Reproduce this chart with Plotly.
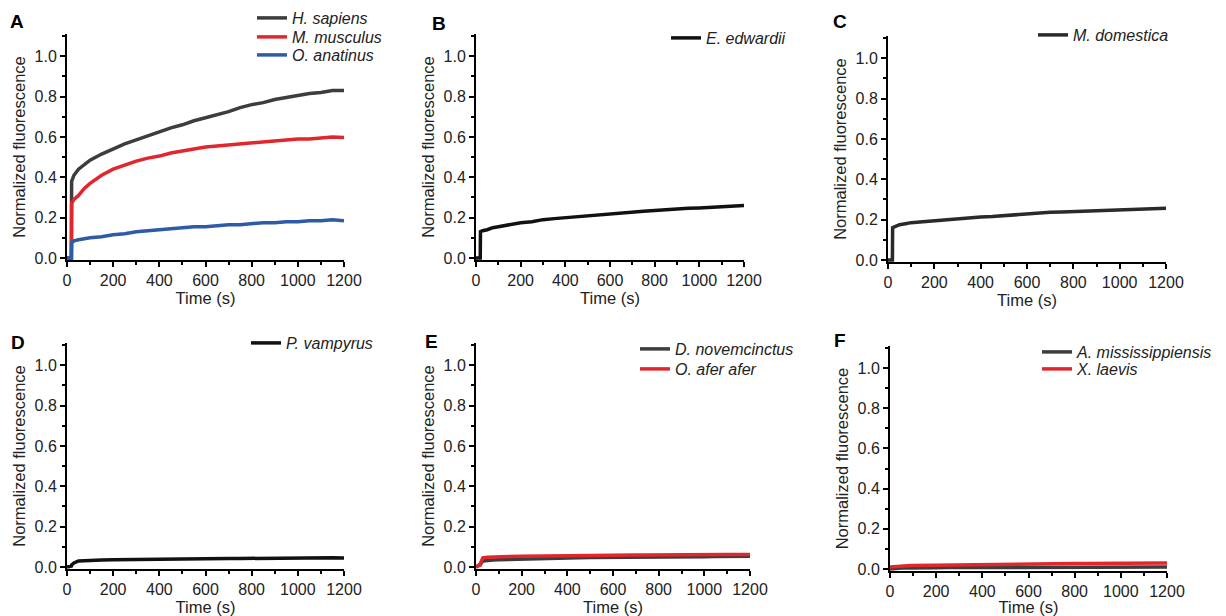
import plotly.graph_objects as go

# ---------------- data ----------------
time_s = [0, 19, 20, 30, 50, 75, 100, 150, 200, 250, 300, 350, 400, 450, 500,
          550, 600, 650, 700, 750, 800, 850, 900, 950, 1000, 1050, 1100, 1150, 1200]

h_sapiens = [0, 0, 0.38, 0.41, 0.44, 0.465, 0.485, 0.515, 0.54, 0.565, 0.585, 0.605, 0.625, 0.645, 0.66,
             0.68, 0.695, 0.71, 0.725, 0.745, 0.76, 0.77, 0.785, 0.795, 0.805, 0.815, 0.82, 0.83, 0.83]
m_musculus = [0, 0, 0.27, 0.29, 0.31, 0.345, 0.37, 0.41, 0.44, 0.46, 0.48, 0.495, 0.505, 0.52, 0.53,
              0.54, 0.55, 0.555, 0.56, 0.565, 0.57, 0.575, 0.58, 0.585, 0.59, 0.59, 0.595, 0.6, 0.597]
o_anatinus = [0, 0, 0.075, 0.085, 0.09, 0.095, 0.1, 0.105, 0.115, 0.12, 0.13, 0.135, 0.14, 0.145, 0.15,
              0.155, 0.155, 0.16, 0.165, 0.165, 0.17, 0.175, 0.175, 0.18, 0.18, 0.185, 0.185, 0.19, 0.185]
e_edwardii = [0, 0, 0.13, 0.135, 0.14, 0.15, 0.155, 0.165, 0.175, 0.18, 0.19, 0.195, 0.2, 0.205, 0.21,
              0.215, 0.22, 0.222, 0.228, 0.232, 0.235, 0.24, 0.243, 0.246, 0.248, 0.25, 0.252, 0.256, 0.26]
m_domestica = [0, 0, 0.16, 0.165, 0.175, 0.18, 0.185, 0.19, 0.195, 0.2, 0.205, 0.21, 0.213, 0.215, 0.22,
               0.225, 0.23, 0.235, 0.237, 0.238, 0.24, 0.243, 0.245, 0.246, 0.248, 0.25, 0.253, 0.256, 0.256]
p_vampyrus = [0, 0.005, 0.01, 0.02, 0.03, 0.032, 0.035, 0.035, 0.036, 0.037, 0.038, 0.038, 0.04, 0.039, 0.04,
              0.04, 0.04, 0.041, 0.042, 0.042, 0.043, 0.043, 0.044, 0.044, 0.044, 0.045, 0.045, 0.046, 0.045]
d_novemcinctus = [0, 0.01, 0.015, 0.03, 0.033, 0.035, 0.036, 0.038, 0.04, 0.042, 0.043, 0.044, 0.045, 0.046, 0.047,
                  0.047, 0.048, 0.048, 0.049, 0.049, 0.05, 0.05, 0.05, 0.051, 0.051, 0.052, 0.052, 0.053, 0.053]
o_afer_afer = [0, 0.01, 0.02, 0.045, 0.048, 0.05, 0.05, 0.052, 0.053, 0.054, 0.055, 0.056, 0.056, 0.057, 0.057,
               0.058, 0.058, 0.058, 0.059, 0.059, 0.06, 0.06, 0.06, 0.061, 0.061, 0.061, 0.062, 0.062, 0.062]
a_mississippiensis = [0, 0.003, 0.004, 0.005, 0.005, 0.005, 0.006, 0.006, 0.006, 0.007, 0.007, 0.007, 0.007, 0.008, 0.008,
                      0.008, 0.008, 0.008, 0.009, 0.009, 0.009, 0.009, 0.009, 0.01, 0.01, 0.01, 0.01, 0.01, 0.01]
x_laevis = [0.01, 0.012, 0.013, 0.014, 0.015, 0.016, 0.017, 0.018, 0.019, 0.02, 0.021, 0.022, 0.022, 0.023, 0.023,
            0.024, 0.025, 0.025, 0.026, 0.026, 0.027, 0.027, 0.028, 0.028, 0.029, 0.029, 0.03, 0.03, 0.03]

panel_letters = ["A", "B", "C", "D", "E", "F"]
x_ticks = [0, 200, 400, 600, 800, 1000, 1200]
y_ticks = [0.0, 0.2, 0.4, 0.6, 0.8, 1.0]

GRAY = "#3d3d3d"
RED = "#e2262d"
BLUE = "#2d5ba8"
BLACK = "#111111"

panels = [
    [("<i>H. sapiens</i>", h_sapiens, GRAY), ("<i>M. musculus</i>", m_musculus, RED), ("<i>O. anatinus</i>", o_anatinus, BLUE)],
    [("<i>E. edwardii</i>", e_edwardii, BLACK)],
    [("<i>M. domestica</i>", m_domestica, "#2a2a2a")],
    [("<i>P. vampyrus</i>", p_vampyrus, BLACK)],
    [("<i>D. novemcinctus</i>", d_novemcinctus, GRAY), ("<i>O. afer afer</i>", o_afer_afer, RED)],
    [("<i>A. mississippiensis</i>", a_mississippiensis, GRAY), ("<i>X. laevis</i>", x_laevis, RED)],
]

# ---------------- layout geometry (screen pixels; page body has an 8px margin) ----------------
OFF = 8
W, H = 1226 - OFF, 616 - OFF
# (left, right, top, bottom) screen px of each plot area
boxes = [
    (67, 344, 34, 260),
    (476, 744, 34, 260),
    (888, 1166, 36, 262),
    (67, 344, 343, 569),
    (476, 750, 343, 569),
    (890, 1167, 346, 571),
]
# legend entries: (left, centre-y) screen px, one per series
legend_pos = [
    [(252, 18), (252, 37), (252, 55)],
    [(666, 38)],
    [(1033, 35)],
    [(246, 343)],
    [(635, 349), (635, 369)],
    [(1037, 352), (1037, 369)],
]
letter_pos = [(17, 18), (439, 20), (840, 18), (18, 338), (431, 337), (840, 336)]

FONT = "Liberation Sans, Arial, sans-serif"

def px_x(v):
    return (v - OFF) / W

def px_y(v):
    return 1 - (v - OFF) / H

fig = go.Figure()
layout = dict(
    width=W, height=H,
    margin=dict(l=0, r=0, t=0, b=0, autoexpand=False),
    paper_bgcolor="white", plot_bgcolor="white",
    font=dict(family=FONT, color="#222222", size=16),
    annotations=[],
)

leg_n = 0
for i, series in enumerate(panels):
    ax = "" if i == 0 else str(i + 1)
    for j, (name, vals, col) in enumerate(series):
        leg_n += 1
        lid = "legend" if leg_n == 1 else "legend%d" % leg_n
        fig.add_trace(go.Scatter(
            x=time_s, y=vals, mode="lines", name=name,
            line=dict(color=col, width=3.5),
            xaxis="x" + ax, yaxis="y" + ax,
            legend=lid, showlegend=True,
        ))
        lx, ly = legend_pos[i][j]
        layout[lid] = dict(
            x=px_x(lx), y=px_y(ly), xanchor="left", yanchor="middle",
            bgcolor="rgba(0,0,0,0)", font=dict(family=FONT, size=16, color="#222222"),
            itemwidth=30,
        )

for i in range(6):
    ax = "" if i == 0 else str(i + 1)
    l, r, t, b = boxes[i]
    common = dict(showline=True, linecolor="black", linewidth=2, showgrid=False, zeroline=False,
                  ticks="outside", ticklen=5, tickwidth=2, tickcolor="black", automargin=False,
                  tickfont=dict(family=FONT, size=16, color="#222222"))
    layout["xaxis" + ax] = dict(
        common, domain=[px_x(l), px_x(r)], range=[0, 1200], tickvals=x_ticks,
        minor=dict(ticks="outside", ticklen=3, tickwidth=1.5, tickcolor="black", dtick=100),
        anchor="y" + ax,
        title=dict(text="Time (s)", font=dict(family=FONT, size=16.5, color="#222222"), standoff=0),
    )
    layout["yaxis" + ax] = dict(
        common, domain=[px_y(b), px_y(t)], range=[-0.01, 1.11], tickvals=y_ticks,
        tickformat=".1f",
        minor=dict(ticks="outside", ticklen=3, tickwidth=1.5, tickcolor="black", dtick=0.1),
        anchor="x" + ax,
        title=dict(text="Normalized fluorescence", font=dict(family=FONT, size=16.5, color="#222222"), standoff=5),
    )
    px_, py_ = letter_pos[i]
    layout["annotations"].append(dict(
        text="<b>%s</b>" % panel_letters[i], x=px_x(px_), y=px_y(py_ + 4), xref="paper", yref="paper",
        showarrow=False, font=dict(family=FONT, size=19, color="black"),
        xanchor="center", yanchor="middle",
    ))

fig.update_layout(**layout)
fig.write_html("out.html")
